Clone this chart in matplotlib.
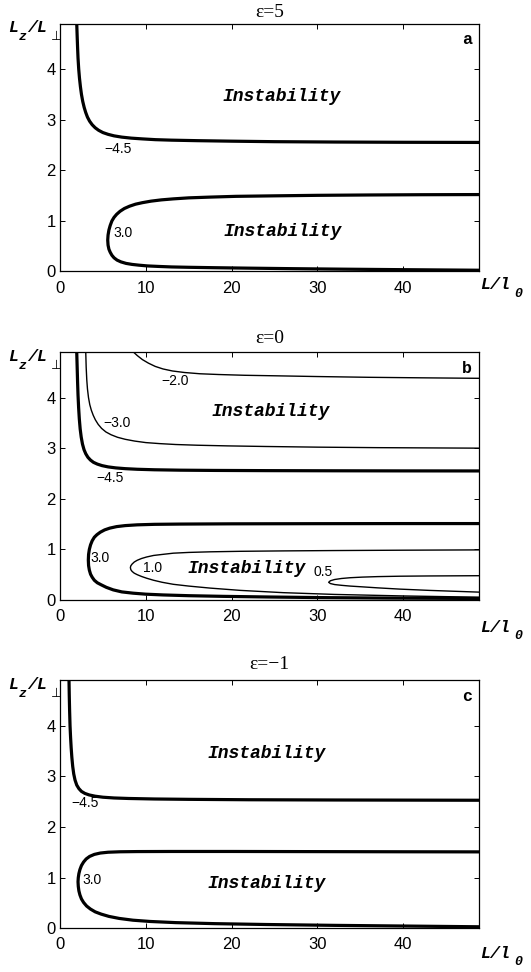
import matplotlib
matplotlib.use("Agg")
import matplotlib.pyplot as plt
import numpy as np

# ---- data (x = L/l0, y = Lz/Lperp) ----
# panel a, eps=5
a_m45_x = [1.95, 2.0, 2.05, 2.1, 2.18, 2.27, 2.38, 2.5, 2.65, 2.82, 3.0, 3.2, 3.45, 3.75, 4.1,
           4.5, 5.0, 5.6, 6.3, 7.2, 8.3, 9.6, 11.1, 13, 16, 20, 25, 32, 40, 48.9]
a_m45_y = [4.9, 4.65, 4.42, 4.22, 4.0, 3.82, 3.65, 3.5, 3.36, 3.24, 3.14, 3.05, 2.97, 2.90, 2.84,
           2.79, 2.745, 2.71, 2.68, 2.655, 2.635, 2.62, 2.605, 2.595, 2.585, 2.575, 2.565, 2.558, 2.553, 2.55]
a_30_up_x = [5.56, 5.6, 5.7, 5.85, 6.05, 6.3, 6.6, 7.0, 7.5, 8.1, 8.8, 9.6, 10.6, 11.8, 13.2, 15,
             17.5, 20.5, 25, 30, 36, 42, 48.9]
a_30_up_y = [0.62, 0.72, 0.82, 0.91, 1.0, 1.07, 1.13, 1.19, 1.245, 1.29, 1.33, 1.36, 1.39, 1.415, 1.435,
             1.455, 1.47, 1.485, 1.495, 1.505, 1.512, 1.517, 1.52]
a_30_lo_x = [5.56, 5.6, 5.7, 5.85, 6.05, 6.3, 6.65, 7.1, 7.7, 8.4, 9.2, 10.2, 11.5, 13, 15, 18, 22,
             27, 33, 40, 48.9]
a_30_lo_y = [0.62, 0.52, 0.44, 0.38, 0.32, 0.27, 0.225, 0.19, 0.16, 0.14, 0.125, 0.11, 0.1, 0.09,
             0.083, 0.075, 0.066, 0.056, 0.046, 0.036, 0.025]

# panel b, eps=0
b_m45_x = [1.95, 2.0, 2.05, 2.1, 2.17, 2.25, 2.35, 2.47, 2.62, 2.8, 3.0, 3.25, 3.55, 3.9, 4.35, 4.9,
           5.6, 6.5, 7.6, 9, 11, 14, 18, 24, 32, 40, 48.9]
b_m45_y = [4.9, 4.6, 4.3, 4.05, 3.8, 3.58, 3.38, 3.22, 3.08, 2.97, 2.89, 2.82, 2.765, 2.72, 2.685, 2.655,
           2.63, 2.61, 2.595, 2.583, 2.573, 2.565, 2.56, 2.556, 2.553, 2.551, 2.55]
b_m30_x = [3.0, 3.05, 3.12, 3.2, 3.32, 3.47, 3.65, 3.87, 4.12, 4.45, 4.85, 5.35, 5.95, 6.7, 7.6, 8.7,
           10, 11.6, 13.5, 16, 19.5, 24, 30, 37, 48.9]
b_m30_y = [4.9, 4.6, 4.35, 4.17, 4.0, 3.86, 3.75, 3.65, 3.56, 3.47, 3.39, 3.32, 3.265, 3.215, 3.175, 3.14,
           3.11, 3.09, 3.072, 3.058, 3.045, 3.033, 3.02, 3.01, 3.0]
b_m20_x = [8.55, 9.0, 9.6, 10.3, 11.1, 12.0, 13.1, 14.5, 16.3, 18.5, 21.5, 25, 30, 36, 42, 48.9]
b_m20_y = [4.9, 4.83, 4.75, 4.68, 4.615, 4.565, 4.525, 4.495, 4.47, 4.455, 4.44, 4.43, 4.415, 4.40, 4.39, 4.38]
b_30_up_x = [3.3, 3.33, 3.42, 3.56, 3.75, 4.0, 4.3, 4.7, 5.2, 5.8, 6.6, 7.6, 9, 11, 14, 20, 30, 40, 48.9]
b_30_up_y = [0.79, 0.9, 1.0, 1.09, 1.17, 1.24, 1.29, 1.34, 1.385, 1.42, 1.45, 1.47, 1.485, 1.495, 1.5,
             1.505, 1.508, 1.51, 1.51]
b_30_lo_x = [3.3, 3.33, 3.42, 3.56, 3.75, 4.0, 4.35, 4.8, 5.4, 6.2, 7.2, 8.5, 10, 12, 15, 19, 24, 30, 38, 48.9]
b_30_lo_y = [0.79, 0.68, 0.59, 0.51, 0.45, 0.39, 0.34, 0.30, 0.25, 0.2, 0.16, 0.135, 0.115, 0.1, 0.085,
             0.072, 0.06, 0.048, 0.038, 0.03]
b_10_x = [8.2, 8.25, 8.4, 8.65, 9.0, 9.5, 10.1, 10.9, 11.9, 13.2, 15, 17.5, 21, 26, 32, 40, 48.9]
b_10_up_y = [0.64, 0.675, 0.71, 0.75, 0.785, 0.82, 0.85, 0.88, 0.9, 0.925, 0.94, 0.952, 0.962, 0.97,
             0.977, 0.984, 0.99]
b_10_lo_y = [0.64, 0.6, 0.565, 0.53, 0.5, 0.465, 0.43, 0.39, 0.35, 0.31, 0.275, 0.235, 0.19, 0.145,
             0.11, 0.08, 0.055]
b_05_x = [31.3, 31.5, 32.0, 32.8, 33.8, 35.2, 37, 39.6, 43, 48.9]
b_05_up_y = [0.35, 0.38, 0.405, 0.425, 0.44, 0.452, 0.462, 0.47, 0.475, 0.48]
b_05_lo_y = [0.35, 0.325, 0.305, 0.29, 0.275, 0.26, 0.24, 0.215, 0.19, 0.155]

# panel c, eps=-1
c_m45_x = [1.05, 1.08, 1.12, 1.17, 1.23, 1.3, 1.38, 1.48, 1.6, 1.75, 1.95, 2.2, 2.5, 2.9, 3.4, 4.1,
           5, 6.3, 8, 11, 15, 22, 32, 48.9]
c_m45_y = [4.9, 4.6, 4.3, 4.0, 3.78, 3.57, 3.38, 3.2, 3.05, 2.93, 2.83, 2.76, 2.705, 2.665, 2.635, 2.61,
           2.59, 2.575, 2.565, 2.555, 2.548, 2.54, 2.535, 2.53]
c_30_up_x = [2.1, 2.13, 2.2, 2.32, 2.5, 2.75, 3.05, 3.45, 4.0, 4.7, 5.6, 7, 9, 13, 20, 30, 40, 48.9]
c_30_up_y = [0.92, 1.0, 1.08, 1.16, 1.24, 1.31, 1.37, 1.42, 1.46, 1.487, 1.503, 1.512, 1.516, 1.518,
             1.518, 1.515, 1.512, 1.51]
c_30_lo_x = [2.1, 2.13, 2.2, 2.32, 2.5, 2.75, 3.1, 3.55, 4.1, 4.8, 5.7, 6.9, 8.5, 10.5, 13.5, 18, 24,
             32, 40, 48.9]
c_30_lo_y = [0.92, 0.83, 0.74, 0.66, 0.58, 0.51, 0.44, 0.38, 0.325, 0.28, 0.235, 0.195, 0.16, 0.135,
             0.112, 0.092, 0.075, 0.058, 0.045, 0.03]

titles = ["\u03b5=5", "\u03b5=0", "\u03b5=\u22121"]
letters = ["a", "b", "c"]

thick = 2.3
thin = 1.0
mono = dict(fontfamily="Liberation Mono", fontweight="bold", fontstyle="italic")
sans = "Liberation Sans"


def loop(ax, ux, uy, lx, ly, lw):
    # closed-nose contour: upper branch (right to nose) then lower branch
    xs = list(ux[::-1]) + list(lx[1:])
    ys = list(uy[::-1]) + list(ly[1:])
    ax.plot(xs, ys, "k", lw=lw, solid_joinstyle="round")


def clab(ax, x, y, s):
    ax.text(x, y, s, fontsize=10, family=sans, ha="center", va="center")


fig = plt.figure(figsize=(5.31, 9.72), dpi=100)
bottoms = [0.72068, 0.38272, 0.04496]
axs = [fig.add_axes([0.11299, b, 0.7896, 0.25514]) for b in bottoms]

# panel a
ax = axs[0]
ax.plot(a_m45_x, a_m45_y, "k", lw=thick)
loop(ax, a_30_up_x, a_30_up_y, a_30_lo_x, a_30_lo_y, thick)
clab(ax, 6.8, 2.43, "\u22124.5")
clab(ax, 7.3, 0.755, "3.0")
ax.text(25.8, 3.45, "Instability", fontsize=13, ha="center", va="center", **mono)
ax.text(26.0, 0.79, "Instability", fontsize=13, ha="center", va="center", **mono)

# panel b
ax = axs[1]
ax.plot(b_m45_x, b_m45_y, "k", lw=thick)
ax.plot(b_m30_x, b_m30_y, "k", lw=thin)
ax.plot(b_m20_x, b_m20_y, "k", lw=thin)
loop(ax, b_30_up_x, b_30_up_y, b_30_lo_x, b_30_lo_y, thick)
loop(ax, b_10_x, b_10_up_y, b_10_x, b_10_lo_y, thin)
loop(ax, b_05_x, b_05_up_y, b_05_x, b_05_lo_y, thin)
clab(ax, 13.4, 4.33, "\u22122.0")
clab(ax, 6.6, 3.49, "\u22123.0")
clab(ax, 5.83, 2.41, "\u22124.5")
clab(ax, 4.66, 0.82, "3.0")
clab(ax, 10.8, 0.63, "1.0")
clab(ax, 30.6, 0.56, "0.5")
ax.text(24.5, 3.73, "Instability", fontsize=13, ha="center", va="center", **mono)
ax.text(21.8, 0.63, "Instability", fontsize=13, ha="center", va="center", **mono)

# panel c
ax = axs[2]
ax.plot(c_m45_x, c_m45_y, "k", lw=thick)
loop(ax, c_30_up_x, c_30_up_y, c_30_lo_x, c_30_lo_y, thick)
clab(ax, 2.91, 2.47, "\u22124.5")
clab(ax, 3.7, 0.96, "3.0")
ax.text(24.1, 3.46, "Instability", fontsize=13, ha="center", va="center", **mono)
ax.text(24.1, 0.89, "Instability", fontsize=13, ha="center", va="center", **mono)

# axes styling
title_dy = [11.5, 13.7, 15.7]
xlab_dy = [13.5, 27.5, 25]
for i, ax in enumerate(axs):
    ax.set_xlim(0, 48.85)
    ax.set_ylim(0, 4.9)
    ax.set_xticks([0, 10, 20, 30, 40])
    ax.set_yticks([0, 1, 2, 3, 4])
    ax.tick_params(direction="in", length=3.6, width=0.7, top=True, right=True,
                   labelsize=12)
    ax.tick_params(axis="x", pad=6.5)
    ax.tick_params(axis="y", pad=3)
    for lab in ax.get_xticklabels() + ax.get_yticklabels():
        lab.set_family(sans)
    for sp in ax.spines.values():
        sp.set_linewidth(0.9)

    ax.annotate(titles[i], xy=(0.5, 1), xycoords="axes fraction",
                xytext=(0, title_dy[i]), textcoords="offset pixels",
                ha="center", va="center", fontsize=14, family="Liberation Serif")
    ax.text(0.971, 0.935, letters[i], transform=ax.transAxes, ha="center", va="center",
            fontsize=12, fontfamily="Liberation Mono", fontweight="bold")

    # y label  Lz/L_perp
    ax.annotate("L", xy=(0, 1), xycoords="axes fraction", xytext=(-52, -8.5),
                textcoords="offset pixels", ha="left", va="baseline", fontsize=12, **mono)
    ax.annotate("z", xy=(0, 1), xycoords="axes fraction", xytext=(-41, -16.5),
                textcoords="offset pixels", ha="left", va="baseline", fontsize=9.5, **mono)
    ax.annotate("/L", xy=(0, 1), xycoords="axes fraction", xytext=(-33, -8.5),
                textcoords="offset pixels", ha="left", va="baseline", fontsize=12, **mono)
    ax.annotate("\u22a5", xy=(0, 1), xycoords="axes fraction", xytext=(-9, -16.5),
                textcoords="offset pixels", ha="left", va="baseline", fontsize=9,
                family="DejaVu Sans")

    # x label L/l0
    ax.annotate("L/l", xy=(1, 0), xycoords="axes fraction", xytext=(1, -xlab_dy[i]),
                textcoords="offset pixels", ha="left", va="center", fontsize=12, **mono)
    ax.annotate("0", xy=(1, 0), xycoords="axes fraction", xytext=(35, -xlab_dy[i] - 9),
                textcoords="offset pixels", ha="left", va="center", fontsize=9.5, **mono)

fig.savefig("out.png", dpi=100)
